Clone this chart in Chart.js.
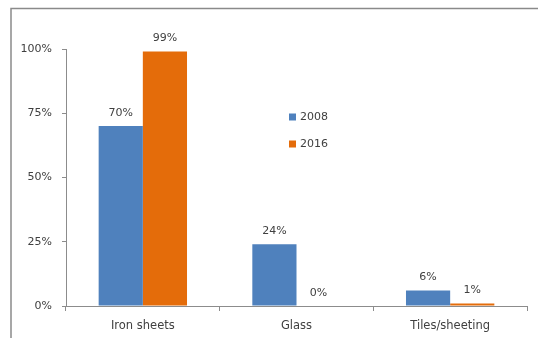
<!DOCTYPE html>
<html>
<head>
<meta charset="utf-8">
<script src="https://cdn.jsdelivr.net/npm/chart.js"></script>
<style>
  html, body { margin: 0; padding: 0; background: #fff; }
  #wrap { width: 538px; height: 338px; }
</style>
</head>
<body>
<div id="wrap"><canvas id="chart" width="538" height="338"></canvas></div>
<script>
// Roofing material shares by year
const categories = ['Iron sheets', 'Glass', 'Tiles/sheeting'];
const years = ['2008', '2016'];
const share2008 = [70, 24, 6];
const share2016 = [99, 0, 1];
const yTicks = [0, 25, 50, 75, 100];

const FONT = 'DejaVu Sans';
const TEXT = '#404040';
const AXIS = '#8c8c8c';

// Frame around the whole chart (only top and left edges fall inside the canvas)
const frame = {
  id: 'frame',
  beforeDraw(chart) {
    const { ctx } = chart;
    ctx.save();
    ctx.strokeStyle = '#8a8a8a';
    ctx.lineWidth = 1.5;
    ctx.beginPath();
    ctx.moveTo(11, 338);
    ctx.lineTo(11, 8.5);
    ctx.lineTo(538, 8.5);
    ctx.stroke();
    ctx.restore();
  },
};

// Percent labels above each bar
const valueLabels = {
  id: 'valueLabels',
  afterDatasetsDraw(chart) {
    const { ctx } = chart;
    ctx.save();
    ctx.font = `11px "${FONT}"`;
    ctx.fillStyle = TEXT;
    ctx.textAlign = 'center';
    ctx.textBaseline = 'middle';
    chart.data.datasets.forEach((ds, i) => {
      chart.getDatasetMeta(i).data.forEach((bar, j) => {
        ctx.fillText(ds.data[j] + '%', bar.x, bar.y - 13);
      });
    });
    ctx.restore();
  },
};

// Legend drawn inside the plot, between the first two groups
const innerLegend = {
  id: 'innerLegend',
  afterDraw(chart) {
    const { ctx, chartArea } = chart;
    const x = chartArea.left + 223;
    let y = chartArea.top + 68;
    ctx.save();
    ctx.font = `11px "${FONT}"`;
    ctx.textBaseline = 'middle';
    chart.data.datasets.forEach((ds) => {
      ctx.fillStyle = ds.backgroundColor;
      ctx.fillRect(x, y - 3.5, 7, 7);
      ctx.fillStyle = TEXT;
      ctx.fillText(ds.label, x + 11, y);
      y += 27;
    });
    ctx.restore();
  },
};

new Chart(document.getElementById('chart'), {
  type: 'bar',
  data: {
    labels: categories,
    datasets: [
      { label: years[0], data: share2008, backgroundColor: '#4f81bd' },
      { label: years[1], data: share2016, backgroundColor: '#e46c0a' },
    ],
  },
  options: {
    responsive: false,
    animation: false,
    datasets: {
      bar: { categoryPercentage: 0.575, barPercentage: 1 },
    },
    layout: {
      padding: { left: 0, right: 11, top: 49, bottom: 0 },
    },
    plugins: {
      legend: { display: false },
      tooltip: { enabled: false },
    },
    scales: {
      x: {
        grid: {
          drawOnChartArea: false,
          drawTicks: true,
          tickLength: 5,
          color: AXIS,
        },
        border: { color: AXIS },
        ticks: {
          color: TEXT,
          font: { family: FONT, size: 11.5 },
          padding: 8,
        },
        afterFit(scale) { scale.height = 32; },
      },
      y: {
        min: 0,
        max: 100,
        afterBuildTicks(scale) {
          scale.ticks = yTicks.map((v) => ({ value: v }));
        },
        grid: {
          drawOnChartArea: false,
          drawTicks: true,
          tickLength: 4,
          color: AXIS,
        },
        border: { color: AXIS },
        ticks: {
          color: TEXT,
          font: { family: FONT, size: 11 },
          padding: 10,
          callback: (v) => v + '%',
        },
        afterFit(scale) { scale.width = 66; },
      },
    },
  },
  plugins: [frame, valueLabels, innerLegend],
});
</script>
</body>
</html>
